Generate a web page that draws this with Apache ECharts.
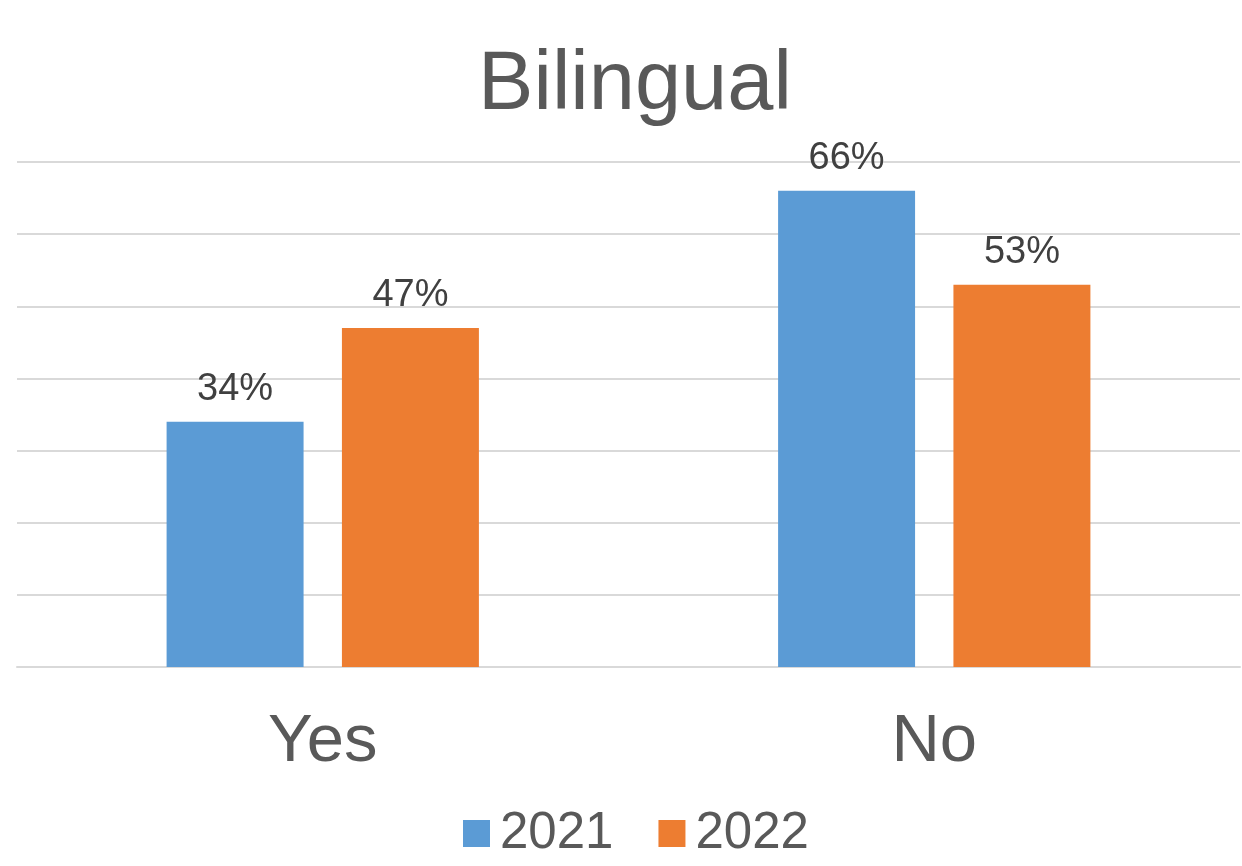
<!DOCTYPE html>
<html>
<head>
<meta charset="utf-8">
<title>Bilingual</title>
<script src="https://cdn.jsdelivr.net/npm/echarts@6/dist/echarts.min.js"></script>
<style>
  html, body { margin: 0; padding: 0; background: #fff; }
  #chart { width: 1242px; height: 866px; }
</style>
</head>
<body>
<div id="chart"></div>
<script>
// data
const categories = ['Yes', 'No']
const seriesNames = ['2021', '2022']
const values2021 = [34, 66]
const values2022 = [47, 53]
const colors = ['#5b9bd5', '#ed7d31']

const font = '"Liberation Sans", Arial, sans-serif'
const chart = echarts.init(document.getElementById('chart'))

function makeSeries(name, data, color) {
  return {
    name: name,
    type: 'bar',
    data: data,
    barWidth: '22.4%',
    barGap: '28%',
    itemStyle: { color: color },
    label: {
      show: true,
      position: 'top',
      distance: 13,
      formatter: '{c}%',
      fontFamily: font,
      fontSize: 38,
      color: '#404040'
    }
  }
}

chart.setOption({
  animation: false,
  title: {
    text: 'Bilingual',
    left: 630,
    textAlign: 'center',
    top: 40,
    textStyle: { fontFamily: font, fontSize: 83, fontWeight: 'normal', color: '#595959' }
  },
  legend: {
    data: seriesNames,
    bottom: 2,
    left: 458,
    icon: 'rect',
    itemWidth: 27,
    itemHeight: 27,
    itemGap: 45,
    textStyle: { fontFamily: font, fontSize: 51, color: '#595959', padding: [0, 0, 0, 5] }
  },
  grid: { left: 17, right: 2, top: 162, bottom: 199, containLabel: false },
  xAxis: {
    type: 'category',
    data: categories,
    axisTick: { show: false },
    axisLine: { lineStyle: { color: '#d9d9d9', width: 2 } },
    axisLabel: { fontFamily: font, fontSize: 67, color: '#595959', margin: 42 }
  },
  yAxis: {
    type: 'value',
    min: 0,
    max: 70,
    interval: 10,
    axisLabel: { show: false },
    axisLine: { show: false },
    axisTick: { show: false },
    splitLine: { lineStyle: { color: '#d9d9d9', width: 2 } }
  },
  series: [
    makeSeries(seriesNames[0], values2021, colors[0]),
    makeSeries(seriesNames[1], values2022, colors[1])
  ]
})
</script>
</body>
</html>
